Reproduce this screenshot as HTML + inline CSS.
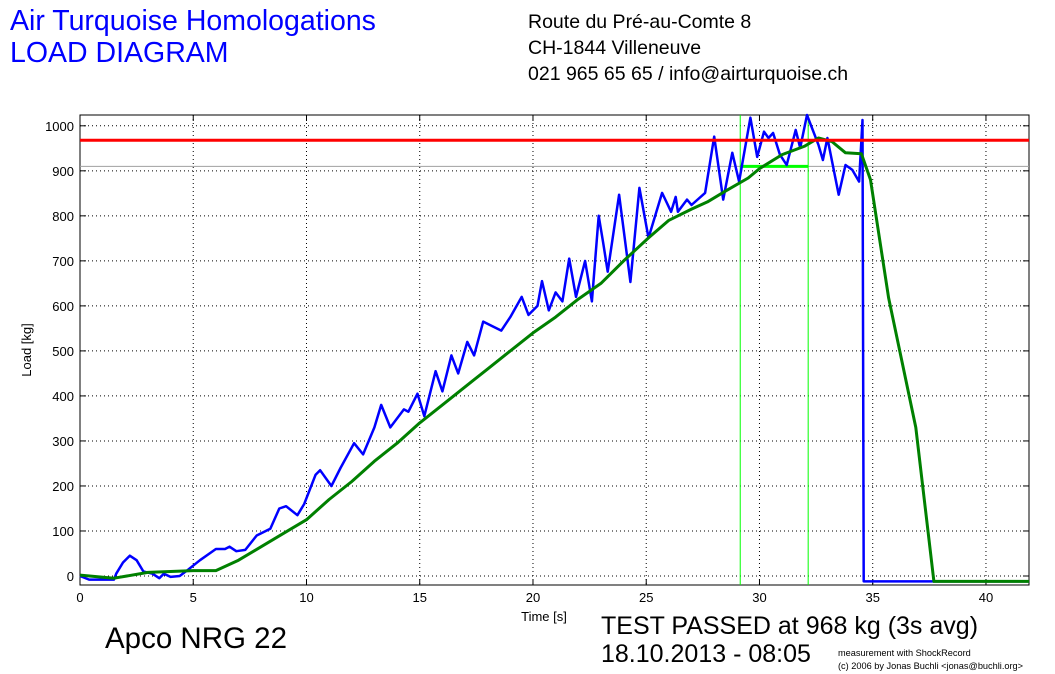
<!DOCTYPE html>
<html><head><meta charset="utf-8"><style>
body{margin:0;width:1055px;height:674px;background:#fff;overflow:hidden;font-family:"Liberation Sans",sans-serif}
.t{position:absolute;white-space:nowrap}
</style></head><body>
<div class="t" style="left:10px;top:5px;font-size:28.5px;color:#0000ff;line-height:32px">Air Turquoise Homologations<br>LOAD DIAGRAM</div>
<div class="t" style="left:528px;top:9px;font-size:19.5px;line-height:26px;color:#000">Route du Pré-au-Comte 8<br>CH-1844 Villeneuve<br>021 965 65 65 / info@airturquoise.ch</div>
<div class="t" style="left:105px;top:622px;font-size:29.5px">Apco NRG 22</div>
<div class="t" style="left:601px;top:612px;font-size:25px;line-height:28px">TEST PASSED at 968 kg (3s avg)<br>18.10.2013 - 08:05</div>
<div class="t" style="left:838px;top:647px;font-size:9.2px;line-height:13px">measurement with ShockRecord<br>(c) 2006 by Jonas Buchli &lt;jonas@buchli.org&gt;</div>
<svg id="c" width="1055" height="674" style="position:absolute;left:0;top:0"></svg>
<script>
const xTicks=[0,5,10,15,20,25,30,35,40];
const yTicks=[0,100,200,300,400,500,600,700,800,900,1000];
const windowT=[29.15,32.15];
const blueT=[0,0.4,1.5,1.6,1.9,2.2,2.5,2.8,3.2,3.5,3.7,4.0,4.4,4.8,5.3,6,6.4,6.6,6.9,7.3,7.8,8.4,8.8,9.1,9.6,9.9,10.4,10.6,11.1,11.5,12.1,12.5,13.0,13.3,13.7,14.3,14.5,14.9,15.2,15.7,16.0,16.4,16.7,17.1,17.4,17.8,18.2,18.6,19.0,19.5,19.8,20.2,20.4,20.7,21.0,21.3,21.6,21.9,22.3,22.6,22.9,23.1,23.3,23.8,24.3,24.7,25.1,25.7,26.1,26.3,26.4,26.8,27.0,27.6,28.0,28.4,28.8,29.1,29.6,29.9,30.2,30.4,30.6,30.9,31.2,31.6,31.8,32.1,32.6,32.8,33.0,33.5,33.8,34.1,34.4,34.55,34.6,34.7,41.9];
const blueL=[0,-8,-8,5,30,45,35,10,5,-5,5,-2,0,15,35,60,60,65,55,58,90,105,150,155,135,160,225,235,200,240,295,270,330,380,330,370,365,405,355,455,410,490,450,520,490,565,555,545,575,620,580,600,655,590,630,610,705,620,700,610,800,740,676,847,653,862,751,851,809,842,809,836,824,851,976,836,940,876,1018,931,987,973,984,936,913,991,951,1024,958,924,973,847,913,902,876,1013,-12,-12,-12];
const greenT=[0,1.5,3,5,6,7,8,9,10,11,12,13,14,15,16,17,18,19,20,21,22,23,24,25.1,26,27,27.7,28.5,29.5,30,31,32,32.6,33.2,33.8,34.5,34.9,35.7,36.9,37.7,41.9];
const greenL=[2,-5,8,12,12,35,65,95,125,170,210,255,295,340,380,420,460,500,540,575,615,650,700,751,790,815,831,855,884,905,936,955,973,965,940,938,880,618,330,-12,-12];
const X0=80,X1=1029,Y0=115,Y1=585,TMAX=41.9,LMIN=-20,LMAX=1024;
const sx=t=>X0+(t/TMAX)*(X1-X0);
const sy=l=>Y1-(l-LMIN)/(LMAX-LMIN)*(Y1-Y0);
const svg=document.getElementById('c');const NS='http://www.w3.org/2000/svg';
function mk(tag,attrs,txt){const e=document.createElementNS(NS,tag);for(const k in attrs)e.setAttribute(k,attrs[k]);if(txt!==undefined)e.textContent=txt;svg.appendChild(e);return e;}
xTicks.forEach(t=>{
const g=mk('line',{x1:sx(t),x2:sx(t),y1:Y0,y2:Y1,stroke:'#000','stroke-dasharray':'1,3','stroke-width':1});


const lb=mk('text',{x:sx(t),y:Y1+17,'font-size':13,'text-anchor':'middle','font-family':'Liberation Sans'},t);


mk('line',{x1:sx(t),x2:sx(t),y1:Y1,y2:Y1-6,stroke:'#000'});mk('line',{x1:sx(t),x2:sx(t),y1:Y0,y2:Y0+6,stroke:'#000'});
});
yTicks.forEach(l=>{
const g=mk('line',{x1:X0,x2:X1,y1:sy(l),y2:sy(l),stroke:'#000','stroke-dasharray':'1,3','stroke-width':1});


const lb=mk('text',{x:X0-6,y:sy(l)+5,'font-size':13,'text-anchor':'end','font-family':'Liberation Sans'},l);


mk('line',{x1:X0,x2:X0+6,y1:sy(l),y2:sy(l),stroke:'#000'});mk('line',{x1:X1,x2:X1-6,y1:sy(l),y2:sy(l),stroke:'#000'});
});
const frame=mk('rect',{x:X0,y:Y0,width:X1-X0,height:Y1-Y0,fill:'none',stroke:'#000'});


const xt=mk('text',{x:544,y:621,'font-size':13,'text-anchor':'middle','font-family':'Liberation Sans'},'Time [s]');


const yt=mk('text',{x:0,y:0,'font-size':13,'text-anchor':'middle','font-family':'Liberation Sans',transform:'translate(31,350) rotate(-90)'},'Load [kg]');


const grayL=mk('line',{x1:X0,x2:X1,y1:sy(910),y2:sy(910),stroke:'#a0a0a0'});


windowT.forEach(t=>{const v=mk('line',{x1:sx(t),x2:sx(t),y1:Y0,y2:Y1,stroke:'#00ff00'});

});
const gh=mk('line',{x1:sx(windowT[0]),x2:sx(windowT[1]),y1:sy(910),y2:sy(910),stroke:'#00ff00','stroke-width':3});


const pts=(T,L)=>T.map((t,i)=>sx(t).toFixed(1)+','+sy(L[i]).toFixed(1)).join(' ');
const b=mk('polyline',{points:pts(blueT,blueL),fill:'none',stroke:'#0000ff','stroke-width':2.5,'stroke-linejoin':'round'});


const g=mk('polyline',{points:pts(greenT,greenL),fill:'none',stroke:'#008000','stroke-width':3,'stroke-linejoin':'round'});


const r=mk('line',{x1:X0,x2:X1,y1:sy(968),y2:sy(968),stroke:'#ff0000','stroke-width':3});


</script>
</body></html>
